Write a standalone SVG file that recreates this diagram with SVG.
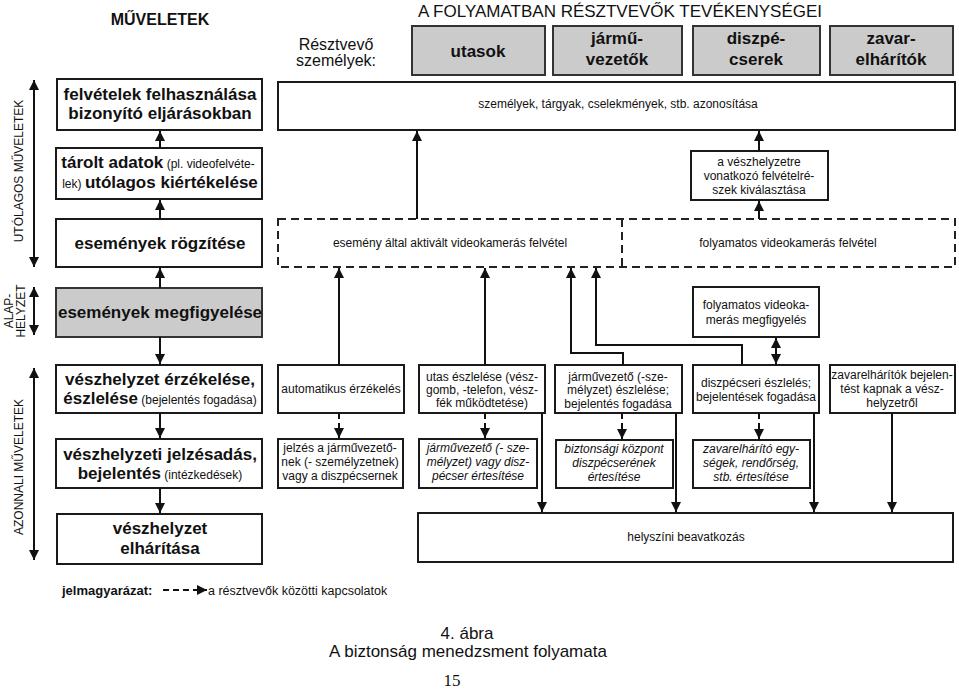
<svg xmlns="http://www.w3.org/2000/svg" width="959" height="689" viewBox="0 0 959 689">
<defs>
<style>
text{font-family:"Liberation Sans",Arial,sans-serif;fill:#111;text-anchor:middle}
.box{fill:#fff;stroke:#1a1a1a;stroke-width:2}
.gbox{fill:#cbcbcb;stroke:#333;stroke-width:2}
.dbox{fill:none;stroke:#222;stroke-width:2;stroke-dasharray:8 5}
.b17{font-size:17px;font-weight:bold}
.b16{font-size:16px;font-weight:bold}
.r17{font-size:17px}
.r16{font-size:16px}
.s12{font-size:12px;font-weight:normal}
.i12{font-size:12px;font-style:italic}
.b13{font-size:13px;font-weight:bold}
.ln{stroke:#111;stroke-width:2;fill:none}
.dl{stroke:#111;stroke-width:2;fill:none;stroke-dasharray:6 4}
</style>
<marker id="ah" viewBox="0 0 10 10" refX="10" refY="5" markerWidth="10" markerHeight="10" markerUnits="userSpaceOnUse" orient="auto-start-reverse"><path d="M0,0 L10,5 L0,10 z" fill="#111"/></marker>
</defs>
<rect width="959" height="689" fill="#fff"/>

<!-- headings -->
<g id="headings">
<text x="160" y="25" class="b16">MŰVELETEK</text>
<text x="336" y="50" class="r16">Résztvevő</text>
<text x="336" y="66" class="r16">személyek:</text>
<text x="620" y="17" class="r17">A FOLYAMATBAN RÉSZTVEVŐK TEVÉKENYSÉGEI</text>
</g>

<g id="h-utasok"><rect x="412" y="26" width="133" height="49" class="gbox"/><text x="478" y="57" class="b17">utasok</text></g>
<g id="h-jarmuvezetok"><rect x="553" y="26" width="129" height="49" class="gbox"/><text x="617" y="44" class="b17">jármű-</text><text x="617" y="65" class="b17">vezetők</text></g>
<g id="h-diszpecserek"><rect x="693" y="26" width="127" height="49" class="gbox"/><text x="756" y="44" class="b17">diszpé-</text><text x="756" y="65" class="b17">cserek</text></g>
<g id="h-zavarelharitok"><rect x="830" y="26" width="123" height="49" class="gbox"/><text x="891" y="44" class="b17">zavar-</text><text x="891" y="65" class="b17">elhárítók</text></g>

<!-- side labels -->
<g id="side-utolagos"><text transform="translate(23,171) rotate(-90)" class="s12">UTÓLAGOS MŰVELETEK</text></g>
<g id="side-alap"><text transform="translate(13,311) rotate(-90)" class="s12">ALAP-</text><text transform="translate(25,311) rotate(-90)" class="s12">HELYZET</text></g>
<g id="side-azonnali"><text transform="translate(23,467) rotate(-90)" class="s12">AZONNALI MŰVELETEK</text></g>

<!-- left column -->
<g id="n-felvetelek"><rect x="57" y="79" width="205" height="51" class="box"/><text x="160" y="100" class="b17">felvételek felhasználása</text><text x="160" y="119" class="b17">bizonyító eljárásokban</text></g>
<g id="n-tarolt"><rect x="56" y="148" width="206" height="51" class="box"/><text x="158" y="168" class="b17">tárolt adatok<tspan class="s12"> (pl. videofelvéte-</tspan></text><text x="160" y="188" class="b17"><tspan class="s12">lek) </tspan>utólagos kiértékelése</text></g>
<g id="n-rogzitese"><rect x="56" y="219" width="206" height="48" class="box"/><text x="160" y="249" class="b17">események rögzítése</text></g>
<g id="n-megfigyelese"><rect x="56" y="288" width="206" height="49" class="gbox"/><text x="160" y="318" class="b17">események megfigyelése</text></g>
<g id="n-erzekelese"><rect x="56" y="365" width="206" height="48" class="box"/><text x="160" y="385" class="b17">vészhelyzet érzékelése,</text><text x="160" y="404" class="b17">észlelése<tspan class="s12"> (bejelentés fogadása)</tspan></text></g>
<g id="n-jelzesadas"><rect x="56" y="439" width="206" height="49" class="box"/><text x="160" y="460" class="b17">vészhelyzeti jelzésadás,</text><text x="160" y="479" class="b17">bejelentés<tspan class="s12"> (intézkedések)</tspan></text></g>
<g id="n-elharitasa"><rect x="57" y="514" width="205" height="50" class="box"/><text x="160" y="534" class="b17">vészhelyzet</text><text x="160" y="554" class="b17">elhárítása</text></g>

<!-- right side -->
<g id="n-azonositasa"><rect x="278" y="82" width="677" height="48" class="box"/><text x="618" y="108" class="s12">személyek, tárgyak, cselekmények, stb. azonosítása</text></g>
<g id="n-kivalasztasa"><rect x="691" y="151" width="137" height="49" class="box"/><text x="759" y="166" class="s12">a vészhelyzetre</text><text x="759" y="180" class="s12">vonatkozó felvételré-</text><text x="759" y="194" class="s12">szek kiválasztása</text></g>
<g id="n-felvetel"><rect x="278" y="219" width="677" height="48" class="dbox"/><line x1="622" y1="219" x2="622" y2="267" class="dbox"/><text x="450" y="247" class="s12">esemény által aktivált videokamerás felvétel</text><text x="788" y="247" class="s12">folyamatos videokamerás felvétel</text></g>
<g id="n-folyamatos-megf"><rect x="693" y="287" width="126" height="50" class="box"/><text x="756" y="309" class="s12">folyamatos videoka-</text><text x="756" y="324" class="s12">merás megfigyelés</text></g>

<g id="n-automatikus"><rect x="278" y="365" width="126" height="48" class="box"/><text x="341" y="393" class="s12">automatikus érzékelés</text></g>
<g id="n-utas"><rect x="419" y="365" width="126" height="48" class="box"/><text x="482" y="381" class="s12">utas észlelése (vész-</text><text x="482" y="394" class="s12">gomb, -telefon, vész-</text><text x="482" y="407" class="s12">fék működtetése)</text></g>
<g id="n-jarmuvezeto"><rect x="555" y="365" width="127" height="48" class="box"/><text x="618" y="381" class="s12">járművezető (-sze-</text><text x="618" y="394" class="s12">mélyzet) észlelése;</text><text x="618" y="408" class="s12">bejelentés fogadása</text></g>
<g id="n-diszpecseri"><rect x="693" y="365" width="126" height="48" class="box"/><text x="756" y="387" class="s12">diszpécseri észlelés;</text><text x="756" y="401" class="s12">bejelentések fogadása</text></g>
<g id="n-zavarelharitok"><rect x="830" y="365" width="125" height="48" class="box"/><text x="892" y="379" class="s12">zavarelhárítók bejelen-</text><text x="892" y="393" class="s12">tést kapnak a vész-</text><text x="892" y="407" class="s12">helyzetről</text></g>

<g id="n-jelzes"><rect x="278" y="439" width="125" height="49" class="box"/><text x="340" y="452" class="s12">jelzés a járművezető-</text><text x="340" y="466" class="s12">nek (- személyzetnek)</text><text x="340" y="480" class="s12">vagy a diszpécsernek</text></g>
<g id="n-jv-ertesitese"><rect x="419" y="439" width="118" height="49" class="box"/><text x="478" y="452" class="i12">járművezető (- sze-</text><text x="478" y="466" class="i12">mélyzet) vagy disz-</text><text x="478" y="480" class="i12">pécser értesítése</text></g>
<g id="n-biztonsagi"><rect x="556" y="440" width="117" height="48" class="box"/><text x="614" y="453" class="i12">biztonsági központ</text><text x="614" y="467" class="i12">diszpécserének</text><text x="614" y="481" class="i12">értesítése</text></g>
<g id="n-zavar-egysegek"><rect x="693" y="440" width="117" height="48" class="box"/><text x="751" y="453" class="i12">zavarelhárító egy-</text><text x="751" y="467" class="i12">ségek, rendőrség,</text><text x="751" y="481" class="i12">stb. értesítése</text></g>
<g id="n-helyszini"><rect x="418" y="513" width="535" height="49" class="box"/><text x="686" y="541" class="s12">helyszíni beavatkozás</text></g>

<!-- legend and caption -->
<g id="legend">
<text x="62" y="595" class="b13" style="text-anchor:start">jelmagyarázat:</text>
<line x1="163" y1="590" x2="207" y2="590" class="dl" marker-end="url(#ah)"/>
<text x="208" y="595" class="s12" style="text-anchor:start;font-size:12.5px">a résztvevők közötti kapcsolatok</text>
</g>
<g id="caption">
<text x="467" y="639" class="r17">4. ábra</text>
<text x="468" y="657" class="r17">A biztonság menedzsment folyamata</text>
<text x="452" y="686" style="font-family:'Liberation Serif','Times New Roman',serif;font-size:17px">15</text>
</g>

<g id="connectors">
<line x1="34" y1="80" x2="34" y2="267" class="ln" marker-start="url(#ah)" marker-end="url(#ah)"/>
<line x1="34" y1="287" x2="34" y2="335" class="ln" marker-start="url(#ah)" marker-end="url(#ah)"/>
<line x1="34" y1="368" x2="34" y2="560" class="ln" marker-start="url(#ah)" marker-end="url(#ah)"/>

<line x1="160" y1="148" x2="160" y2="131" class="ln" marker-end="url(#ah)"/>
<line x1="160" y1="219" x2="160" y2="200" class="ln" marker-end="url(#ah)"/>
<line x1="160" y1="288" x2="160" y2="268" class="ln" marker-end="url(#ah)"/>
<line x1="160" y1="337" x2="160" y2="364" class="ln" marker-end="url(#ah)"/>
<line x1="160" y1="413" x2="160" y2="438" class="ln" marker-end="url(#ah)"/>
<line x1="160" y1="488" x2="160" y2="513" class="ln" marker-end="url(#ah)"/>

<line x1="417" y1="219" x2="417" y2="131" class="ln" marker-end="url(#ah)"/>
<line x1="759" y1="219" x2="759" y2="201" class="ln" marker-end="url(#ah)"/>
<line x1="759" y1="151" x2="759" y2="131" class="ln" marker-end="url(#ah)"/>

<line x1="339" y1="365" x2="339" y2="268" class="ln" marker-end="url(#ah)"/>
<line x1="485" y1="365" x2="485" y2="268" class="ln" marker-end="url(#ah)"/>
<polyline points="623,365 623,353 571,353 571,268" class="ln" marker-end="url(#ah)"/>
<polyline points="742,365 742,345 596,345 596,268" class="ln" marker-end="url(#ah)"/>
<line x1="776" y1="338" x2="776" y2="364" class="ln" marker-start="url(#ah)" marker-end="url(#ah)"/>

<line x1="339" y1="413" x2="339" y2="438" class="dl" marker-end="url(#ah)"/>
<line x1="485" y1="413" x2="485" y2="438" class="dl" marker-end="url(#ah)"/>
<line x1="622" y1="413" x2="622" y2="439" class="dl" marker-end="url(#ah)"/>
<line x1="759" y1="413" x2="759" y2="439" class="dl" marker-end="url(#ah)"/>

<line x1="542" y1="413" x2="542" y2="512" class="ln" marker-end="url(#ah)"/>
<line x1="676" y1="413" x2="676" y2="512" class="ln" marker-end="url(#ah)"/>
<line x1="814" y1="413" x2="814" y2="512" class="ln" marker-end="url(#ah)"/>
<line x1="892" y1="413" x2="892" y2="512" class="ln" marker-end="url(#ah)"/>
</g>
</svg>
